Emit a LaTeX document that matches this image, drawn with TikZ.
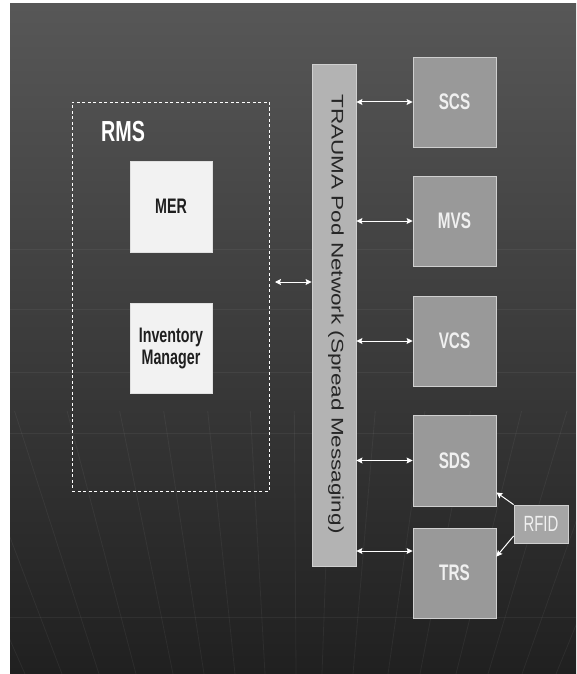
\documentclass[tikz,border=0pt]{standalone}
\usepackage{fontspec}
\setmainfont{Liberation Sans}
\newfontfamily\narrowsf[FakeStretch=0.68]{Liberation Sans}
\newfontfamily\widesf[FakeStretch=1.34]{Liberation Sans}
\usetikzlibrary{arrows.meta,calc}

\definecolor{bgtop}{HTML}{575757}
\definecolor{bgmid}{HTML}{3A3A3A}
\definecolor{bgbot}{HTML}{202020}
\definecolor{appfill}{HTML}{F2F2F2}
\definecolor{subfill}{HTML}{999999}
\definecolor{subedge}{HTML}{CFCFCF}
\definecolor{netfill}{HTML}{B3B3B3}
\definecolor{rfidfill}{HTML}{A6A6A6}

\tikzset{
  bgline/.style={draw=white, opacity=0.05, line width=0.8pt},
  rmsbox/.style={draw=white, dash pattern=on 3pt off 2.5pt, line width=0.8pt,
    minimum width=197pt, minimum height=389pt, inner sep=0pt},
  appbox/.style={fill=appfill, draw=black!12, line width=0.6pt, inner sep=0pt,
    minimum width=82pt, minimum height=91pt, align=center, text=black!88,
    font=\narrowsf\bfseries\fontsize{21}{24}\selectfont},
  subbox/.style={fill=subfill, draw=subedge, line width=0.8pt, inner sep=0pt,
    minimum width=83pt, minimum height=90pt, text=white!94!black,
    font=\narrowsf\bfseries\fontsize{22.5}{24}\selectfont},
  netbar/.style={fill=netfill, draw=subedge, line width=0.8pt, inner sep=0pt,
    minimum width=44pt, minimum height=502pt},
  link/.style={draw=white, line width=1pt,
    {Stealth[length=6pt,width=6pt,inset=1pt]}-{Stealth[length=6pt,width=6pt,inset=1pt]}},
  tag/.style={draw=white, line width=1pt, -{Stealth[length=6pt,width=6pt,inset=1pt]}}
}

\begin{document}
\begin{tikzpicture}[x=1pt,y=-1pt]
\fill[white] (0,0) rectangle (576,674);
\useasboundingbox (0,0) rectangle (576,674);
\fill[top color=bgtop, middle color=bgmid, bottom color=bgbot] (10,4) rectangle (576,674);
\begin{scope}
  \clip (10,4) rectangle (576,674);
  \foreach \gy in {249,309,372,433,617}
    \draw[bgline] (10,\gy) -- (576,\gy);
  \coordinate (vanish) at (300,1300);
  \foreach \bx in {25,62,99,136,173,204,235,265,296,322,353,388,420,456,488,522,556}
    \draw[bgline] ($(vanish)!1.42!(\bx,674)$) -- (\bx,674);
\end{scope}

\node[rmsbox] (rms) at (170.5,296.5) {};
\node[text=white, font=\narrowsf\bfseries\fontsize{29}{31}\selectfont] (rmslabel) at (123,132) {RMS};
\node[appbox] (mer) at (171,206.5) {MER};
\node[appbox, minimum height=90pt] (inv) at (171,348) {Inventory\\[-2pt]Manager};

\node[netbar] (net) at (334,315) {};
\node[rotate=-90, text=black!85, font=\widesf\fontsize{16.8}{18}\selectfont] (nettext) at (336,314)
  {TRAUMA Pod Network (Spread Messaging)};

\node[subbox] (scs) at (454.5,102) {SCS};
\node[subbox] (mvs) at (454.5,221) {MVS};
\node[subbox] (vcs) at (454.5,341) {VCS};
\node[subbox, minimum height=91pt] (sds) at (454.5,460.5) {SDS};
\node[subbox] (trs) at (454.5,573) {TRS};
\node[fill=rfidfill, draw=subedge, line width=0.8pt, inner sep=0pt,
      minimum width=54pt, minimum height=38pt, text=white!94!black,
      font=\narrowsf\fontsize{22}{24}\selectfont] (rfid) at (541,524) {RFID};

\coordinate (rmsport) at (275,282);
\draw[link] (rmsport) -- (rmsport -| net.west);
\foreach \sub in {scs,mvs,vcs,sds}
  \draw[link] (\sub.west -| net.east) -- (\sub.west);
\draw[link] ([yshift=22pt]trs.west -| net.east) -- ([yshift=22pt]trs.west);

\draw[tag] (rfid.north west) -- ([yshift=14pt]sds.south east);
\draw[tag] ([yshift=-12pt]rfid.west) -- ([yshift=-29pt]trs.north east);
\end{tikzpicture}
\end{document}
